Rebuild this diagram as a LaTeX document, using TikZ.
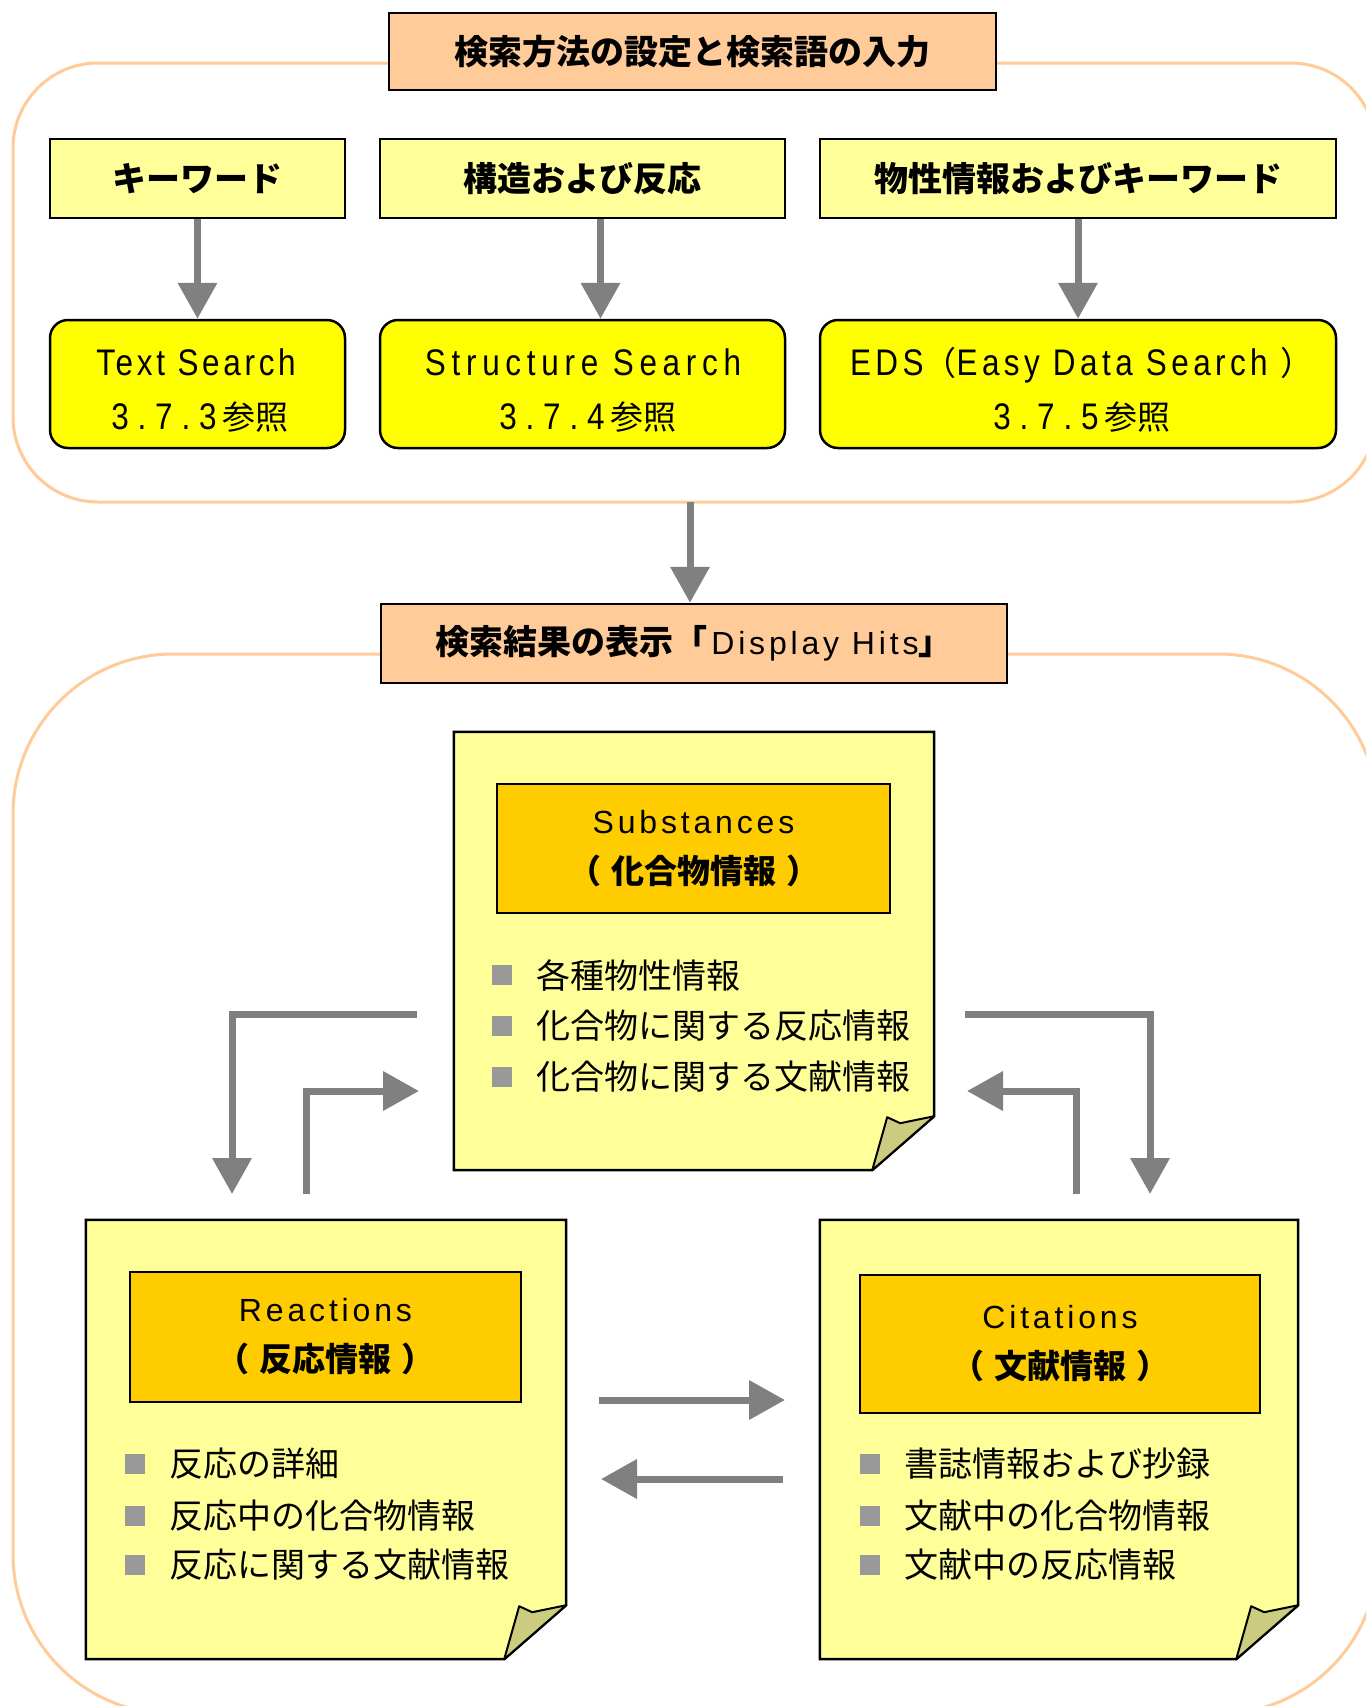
\documentclass[tikz,border=0pt]{standalone}
\usepackage{fontspec}
\usetikzlibrary{arrows.meta,calc}
\setmainfont{Liberation Sans}
\newfontfamily\cjk{Noto Sans CJK JP}
\newfontfamily\lat[LetterSpace=12]{Liberation Sans}
\newfontfamily\latA[FakeStretch=0.85,LetterSpace=10]{Liberation Sans}
\newfontfamily\latB[FakeStretch=0.85,LetterSpace=15.5]{Liberation Sans}
\newfontfamily\latC[FakeStretch=0.85,LetterSpace=12]{Liberation Sans}
\newfontfamily\latD[FakeStretch=0.85,LetterSpace=24]{Liberation Sans}
\definecolor{peach}{HTML}{FFCC99}
\definecolor{paleyel}{HTML}{FFFF99}
\definecolor{brightyel}{HTML}{FFFF00}
\definecolor{hdrorange}{HTML}{FFCC00}
\definecolor{arrgray}{HTML}{808080}
\definecolor{bulgray}{HTML}{999999}
\definecolor{foldcol}{HTML}{CCCC80}
\definecolor{grpline}{HTML}{FFCC99}
\newcommand\drawnote[1]{%
  \draw[notefill] (#1.north west) -- (#1.north east)
    -- ($(#1.south east)+(0,-54)$) -- ($(#1.south east)+(-62,0)$)
    -- (#1.south west) -- cycle;
  \draw[foldfill] ($(#1.south east)+(-62,0)$) -- ($(#1.south east)+(-47,-53)$)
    -- ($(#1.south east)+(-34,-47)$) -- ($(#1.south east)+(0,-54)$) -- cycle;
}
\newcommand\hdrjp[1]{{\cjk\bfseries\fontsize{33}{40}\selectfont （\hspace{10pt}#1\hspace{10pt}）}}
\newcommand\seeref[1]{{\latD\fontsize{37}{40}\selectfont #1}\hspace{6pt}{\cjk\fontsize{33}{40}\selectfont 参照}}
\begin{document}
\begin{tikzpicture}[x=1pt,y=-1pt,
  grp/.style={draw=grpline,line width=3pt},
  titlebox/.style={draw=black,line width=2.5pt,fill=peach,inner sep=0pt},
  kbox/.style={draw=black,line width=2.5pt,fill=paleyel,inner sep=0pt,
    font=\cjk\bfseries\fontsize{34}{40}\selectfont},
  sbox/.style={draw=black,line width=2.5pt,fill=brightyel,inner sep=0pt,
    rounded corners=18pt},
  stxt/.style={anchor=base,inner sep=0pt,font=\fontsize{37}{40}\selectfont},
  notebox/.style={inner sep=0pt},
  notefill/.style={draw=black,line width=2.5pt,fill=paleyel,line join=miter},
  foldfill/.style={draw=black,line width=2pt,fill=foldcol,line join=round},
  hdrbox/.style={draw=black,line width=2.5pt,fill=hdrorange,inner sep=0pt,
    align=center,font=\lat\fontsize{32}{50}\selectfont},
  bul/.style={fill=bulgray,minimum size=20pt,inner sep=0pt},
  btxt/.style={anchor=west,inner sep=0pt,font=\cjk\fontsize{34}{40}\selectfont},
  arr/.style={draw=arrgray,line width=7pt,-{Triangle[length=36pt,width=38pt]}},
]
\useasboundingbox (0,0) rectangle (1366,1706);
\fill[white] (0,0) rectangle (1366,1706);
\begin{scope}
  \clip (0,0) rectangle (1366,1706);
  \draw[grp,rounded corners=85pt] (13,63) rectangle (1376,502);
  \draw[grp,rounded corners=160pt] (13,654) rectangle (1378,1714);
\end{scope}

% top section
\node[titlebox,minimum width=607pt,minimum height=77pt,
  font=\cjk\bfseries\fontsize{34}{40}\selectfont] (title) at (692.5,51.5)
  {検索方法の設定と検索語の入力};

\node[kbox,minimum width=295pt,minimum height=79pt] (kw) at (197.5,178.5) {キーワード};
\node[kbox,minimum width=405pt,minimum height=79pt] (ks) at (582.5,178.5) {構造および反応};
\node[kbox,minimum width=516pt,minimum height=79pt] (kp) at (1078,178.5) {物性情報およびキーワード};

\node[sbox,minimum width=295pt,minimum height=128pt] (ts) at (197.5,384) {};
\node[sbox,minimum width=405pt,minimum height=128pt] (ss) at (582.5,384) {};
\node[sbox,minimum width=516pt,minimum height=128pt] (es) at (1078,384) {};
\node[stxt] (ts1) at (196,375.5) {\latA Text Search};
\node[stxt] (ts2) at (200,429) {\seeref{3.7.3}};
\node[stxt] (ss1) at (583,375.5) {\latB Structure Search};
\node[stxt] (ss2) at (588,429) {\seeref{3.7.4}};
\node[stxt] (es1) at (1082,375.5) {\latC EDS{\cjk\fontsize{33}{40}\selectfont （}Easy Data Search {\cjk\fontsize{33}{40}\selectfont ）}};
\node[stxt] (es2) at (1082,429) {\seeref{3.7.5}};

\draw[arr] (kw.south) -- (ts.north);
\draw[arr] ([xshift=18pt]ks.south) -- ([xshift=18pt]ss.north);
\draw[arr] (kp.south) -- (es.north);

\coordinate (topbot) at (690,502);
\node[titlebox,minimum width=626pt,minimum height=79pt] (disp) at (694,643.5)
  {{\cjk\bfseries\fontsize{34}{40}\selectfont 検索結果の表示「}\hspace{4pt}{\lat\fontsize{32}{40}\selectfont Display Hits}{\cjk\bfseries\fontsize{34}{40}\selectfont 」}};
\draw[arr] (topbot) -- (topbot |- disp.north);

% notes
\node[notebox,minimum width=480pt,minimum height=438pt] (subs) at (694,951) {};
\node[notebox,minimum width=480pt,minimum height=439pt] (reac) at (326,1439.5) {};
\node[notebox,minimum width=478pt,minimum height=439pt] (cite) at (1059,1439.5) {};
\drawnote{subs}
\drawnote{reac}
\drawnote{cite}

\node[hdrbox,minimum width=393pt,minimum height=129pt] (subsH) at (693.5,848.5)
  {Substances\\\hdrjp{化合物情報}};
\node[hdrbox,minimum width=391pt,minimum height=130pt] (reacH) at (325.5,1337)
  {Reactions\\\hdrjp{反応情報}};
\node[hdrbox,minimum width=400pt,minimum height=138pt] (citeH) at (1060,1344)
  {Citations\\\hdrjp{文献情報}};

% bullets
\node[bul] (sb1) at (502,975) {};
\node[bul] (sb2) at (502,1026) {};
\node[bul] (sb3) at (502,1077) {};
\node[btxt] (st1) at (536,975) {各種物性情報};
\node[btxt] (st2) at (536,1026) {化合物に関する反応情報};
\node[btxt] (st3) at (536,1077) {化合物に関する文献情報};

\node[bul] (rb1) at (135,1464) {};
\node[bul] (rb2) at (135,1516) {};
\node[bul] (rb3) at (135,1565) {};
\node[btxt] (rt1) at (169,1464) {反応の詳細};
\node[btxt] (rt2) at (169,1516) {反応中の化合物情報};
\node[btxt] (rt3) at (169,1565) {反応に関する文献情報};

\node[bul] (cb1) at (870,1464) {};
\node[bul] (cb2) at (870,1516) {};
\node[bul] (cb3) at (870,1565) {};
\node[btxt] (ct1) at (904,1464) {書誌情報および抄録};
\node[btxt] (ct2) at (904,1516) {文献中の化合物情報};
\node[btxt] (ct3) at (904,1565) {文献中の反応情報};

% connectors between notes
\coordinate (la1) at (417,1014);
\coordinate (la2) at (232,1194);
\coordinate (lb1) at (306,1194);
\coordinate (lb2) at (419,1091);
\coordinate (ra1) at (965,1014);
\coordinate (ra2) at (1150,1194);
\coordinate (rb1c) at (1076,1194);
\coordinate (rb2c) at (967,1091);
\coordinate (ma1) at (599,1400);
\coordinate (ma2) at (785,1400);
\coordinate (mb1) at (783,1479);
\coordinate (mb2) at (601,1479);
\draw[arr] (la1) -| (la2);
\draw[arr] (lb1) |- (lb2);
\draw[arr] (ra1) -| (ra2);
\draw[arr] (rb1c) |- (rb2c);
\draw[arr] (ma1) -- (ma2);
\draw[arr] (mb1) -- (mb2);
\end{tikzpicture}
\end{document}
